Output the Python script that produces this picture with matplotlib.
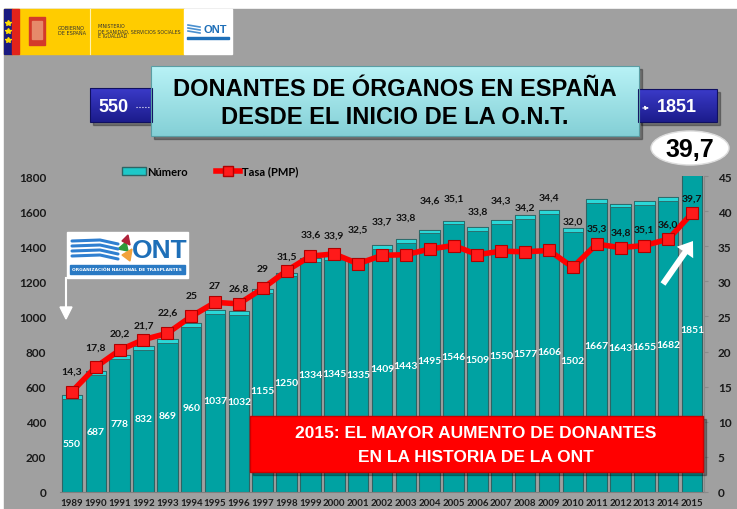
import numpy as np
import matplotlib.pyplot as plt
from matplotlib.patches import Rectangle, Ellipse, FancyArrow, Polygon
from matplotlib.lines import Line2D
from matplotlib.colors import LinearSegmentedColormap

# data
years = list(range(1989, 2016))
donantes = [550, 687, 778, 832, 869, 960, 1037, 1032, 1155, 1250, 1334, 1345, 1335, 1409,
            1443, 1495, 1546, 1509, 1550, 1577, 1606, 1502, 1667, 1643, 1655, 1682, 1851]
tasa = [14.3, 17.8, 20.2, 21.7, 22.6, 25.0, 27.0, 26.8, 29.0, 31.5, 33.6, 33.9, 32.5, 33.7,
        33.8, 34.6, 35.1, 33.8, 34.3, 34.2, 34.4, 32.0, 35.3, 34.8, 35.1, 36.0, 39.7]
tasa_text = ["14,3", "17,8", "20,2", "21,7", "22,6", "25", "27", "26,8", "29", "31,5", "33,6",
             "33,9", "32,5", "33,7", "33,8", "34,6", "35,1", "33,8", "34,3", "34,2", "34,4",
             "32,0", "35,3", "34,8", "35,1", "36,0", "39,7"]
# how far (pixels) each rate label sits above its marker
tasa_label_dy = [20, 20, 17, 14, 21, 21, 17, 16, 20, 15, 22, 19, 35, 34, 38, 49, 47, 44, 51,
                 45, 53, 46, 16, 16, 16, 15, 15]

W, H = 737, 510
fig = plt.figure(figsize=(W / 100, H / 100), dpi=100)
fig.patch.set_facecolor('white')

# background (pixel coords, y down)
bg = fig.add_axes([0, 0, 1, 1], zorder=0)
bg.set_xlim(0, W)
bg.set_ylim(H, 0)
bg.axis('off')
bg.add_patch(Rectangle((4, 10), W, H, color='#a0a0a0'))

# main chart
ax = fig.add_axes([60 / W, 1 - 493 / H, 644 / W, 316 / H], zorder=1)
ax.patch.set_visible(False)
x = np.arange(len(years))
ax.bar(x, donantes, width=0.86, color='#00a2a2', edgecolor='#2d6464', linewidth=0.8,
       label='Número')
ax.bar(x, [22] * len(x), bottom=np.array(donantes) - 22, width=0.86, color='#2ad8d8',
       edgecolor='#2d6464', linewidth=0.6)
ax.set_xlim(-0.5, len(x) - 0.5)
ax.set_ylim(0, 1800)
ax.set_yticks(range(0, 1801, 200))
ax.set_xticks(x)
ax.set_xticklabels(years)
for s in ['top', 'left', 'right']:
    ax.spines[s].set_visible(False)
ax.spines['bottom'].set_color('#808080')
ax.tick_params(axis='y', length=0, pad=10, labelsize=8.5, labelcolor='#1a1a1a')
ax.tick_params(axis='x', length=0, pad=4, labelsize=7, labelcolor='#1a1a1a')
for lab in ax.get_xticklabels() + ax.get_yticklabels():
    lab.set_fontfamily('Lato')
    lab.set_fontweight('bold')

for xi, d in zip(x, donantes):
    ax.text(xi, d / 2, str(d), ha='center', va='center', color='white', fontsize=7.5,
            fontweight='bold', family='Lato', clip_on=False)

ax2 = ax.twinx()
ax2.set_zorder(2)
ax2.patch.set_visible(False)
ax2.plot(x, tasa, color='#ff0000', lw=4, marker='s', markersize=9,
         markerfacecolor='#ff1a1a', markeredgecolor='#b00000', markeredgewidth=0.8,
         label='Tasa (PMP)')
ax2.set_ylim(0, 45)
ax2.set_yticks(range(0, 46, 5))
for s in ['top', 'left', 'bottom']:
    ax2.spines[s].set_visible(False)
ax2.spines['right'].set_color('#8a8a8a')
ax2.tick_params(axis='y', length=3, color='#8a8a8a', pad=7, labelsize=8.5, labelcolor='#1a1a1a')
for lab in ax2.get_yticklabels():
    lab.set_fontfamily('Lato')
    lab.set_fontweight('bold')
for xi, t, s, dy in zip(x, tasa, tasa_text, tasa_label_dy):
    ax2.annotate(s, (xi, t), xytext=(0, dy), textcoords='offset pixels', ha='center',
                 va='center', fontsize=7.5, fontweight='bold', family='Lato', color='#111111')

handles = [Rectangle((0, 0), 1, 1, facecolor='#1ec8c8', edgecolor='#2d6464'),
           Line2D([], [], color='#ff0000', lw=4, marker='s', markersize=7,
                  markerfacecolor='#ff1a1a', markeredgecolor='#b00000')]
fig.legend(handles, ['Número', 'Tasa (PMP)'], loc='center', bbox_to_anchor=(210 / W, 1 - 172 / H),
           ncol=2, frameon=False, handlelength=2.2, handletextpad=0.1, columnspacing=2.5,
           prop={'family': 'Lato', 'weight': 'bold', 'size': 8})

# overlay decorations (pixel coords, y down)
ov = fig.add_axes([0, 0, 1, 1], zorder=5)
ov.patch.set_visible(False)


def grad_box(x0, y0, x1, y1, ctop, cbot, edge):
    ov.add_patch(Rectangle((x0 + 3, y0 + 3), x1 - x0, y1 - y0, color='black', alpha=0.3,
                           zorder=1))
    cmap = LinearSegmentedColormap.from_list('g', [ctop, cbot])
    ov.imshow(np.linspace(0, 1, 50).reshape(-1, 1), cmap=cmap, aspect='auto',
              extent=(x0, x1, y1, y0), origin='upper', interpolation='bilinear', zorder=2)
    ov.add_patch(Rectangle((x0, y0), x1 - x0, y1 - y0, fill=False, edgecolor=edge, lw=0.8,
                           zorder=2.5))


# header strip
ov.add_patch(Rectangle((4, 10), 180, 45, color='#ffcc00'))
ov.add_patch(Rectangle((4, 10), 8, 45, color='#1a1a80'))
ov.add_patch(Rectangle((12, 10), 7, 45, color='#e2231a'))
for yy in (24, 32, 41):
    ov.plot(8, yy, marker='*', color='#ffdd00', markersize=4)
ov.add_patch(Rectangle((29, 18), 16, 28, color='#d33a2a'))
ov.add_patch(Rectangle((32, 22), 10, 18, color='#e68a6a'))
ov.plot([90, 90], [10, 55], color='#fff2b0', lw=0.8)
ov.text(58, 31, 'GOBIERNO\nDE ESPAÑA', fontsize=3.6, color='#333333', va='center',
        linespacing=1.0)
ov.text(98, 32, 'MINISTERIO\nDE SANIDAD, SERVICIOS SOCIALES\nE IGUALDAD', fontsize=3.4,
        color='#333333', va='center', linespacing=1.0)
ov.add_patch(Rectangle((184, 10), 48, 45, color='white'))
ov.text(215, 30, 'ONT', fontsize=8, fontweight='bold', color='#1e6fb8', ha='center',
        va='center', family='Liberation Sans')
for k in range(3):
    ov.plot([188, 200], [26 + 3 * k, 28 + 3 * k], color='#4a90d0', lw=1.2)
ov.add_patch(Rectangle((187, 38), 42, 2, color='#1e6fb8'))

# title boxes
grad_box(90, 89, 152, 123, '#3a3ac8', '#1c1c8c', '#101060')
ov.text(114, 107, '550', color='white', fontsize=13, fontweight='bold', ha='center',
        va='center', family='Liberation Sans', zorder=4)
ov.plot([136, 150], [108, 108], color='white', lw=0.8, ls=':', zorder=4)
grad_box(638, 90, 717, 123, '#3a3ac8', '#1c1c8c', '#101060')
ov.annotate('', xy=(652, 109), xytext=(640, 109), zorder=4,
            arrowprops=dict(arrowstyle='-|>', color='white', lw=0.8, ls=':', mutation_scale=6))
ov.text(677, 108, '1851', color='white', fontsize=13, fontweight='bold', ha='center',
        va='center', family='Liberation Sans', zorder=4)
grad_box(151, 67, 639, 137, '#b8f2f6', '#84d0d6', '#5a9ea4')
ov.text(395, 89, 'DONANTES DE ÓRGANOS EN ESPAÑA', fontsize=17, fontweight='bold',
        ha='center', va='center', family='Liberation Sans', color='black', zorder=4)
ov.text(395, 118, 'DESDE EL INICIO DE LA O.N.T.', fontsize=17, fontweight='bold',
        ha='center', va='center', family='Liberation Sans', color='black', zorder=4)

# 39,7 bubble
ov.add_patch(Ellipse((690, 149), 78, 34, facecolor='white', edgecolor='#dddddd'))
ov.text(690, 150, '39,7', fontsize=18, fontweight='bold', ha='center', va='center',
        family='Liberation Sans', color='black')

# white arrow to 2015
ov.add_patch(FancyArrow(663, 285, 30, -43, width=6, head_width=20, head_length=14,
                        length_includes_head=True, color='white', lw=0))

# red message box
ov.add_patch(Rectangle((253, 420), 453, 56, color='black', alpha=0.3))
ov.add_patch(Rectangle((250, 417), 453, 56, facecolor='#ff0000', edgecolor='#cc0000'))
ov.text(476, 434, '2015: EL MAYOR AUMENTO DE DONANTES', fontsize=12.5, fontweight='bold',
        ha='center', va='center', family='Liberation Sans', color='white')
ov.text(476, 458, 'EN LA HISTORIA DE LA ONT', fontsize=12.5, fontweight='bold',
        ha='center', va='center', family='Liberation Sans', color='white')

# ONT logo box with arrow
ov.add_patch(Rectangle((67, 233), 121, 46, color='white'))
ov.add_patch(Rectangle((70, 266), 115, 9, color='#2a7ac4'))
ov.text(127, 270.5, 'ORGANIZACIÓN NACIONAL DE TRASPLANTES', fontsize=3.2, color='white',
        ha='center', va='center', fontweight='bold')
for k in range(4):
    yy = 242 + 5 * k
    ov.plot([72, 100, 118], [yy, yy - 1, yy + 3], color='#2f7fd0', lw=2.2,
            solid_capstyle='round')
ov.add_patch(Polygon([[118, 250], [126, 243], [128, 252]], color='#2e9a3a'))
ov.add_patch(Polygon([[122, 242], [128, 236], [130, 246]], color='#b0223a'))
ov.add_patch(Polygon([[122, 256], [132, 250], [130, 262]], color='#f2a23a'))
ov.text(160, 251, 'ONT', fontsize=19, fontweight='bold', color='#1e6fb8', ha='center',
        va='center', family='Liberation Sans')
ov.plot([66, 66], [279, 310], color='white', lw=1.5)
ov.add_patch(Polygon([[60, 308], [72, 308], [66, 320]], color='white'))

ov.set_xlim(0, W)
ov.set_ylim(H, 0)
ov.axis('off')

fig.savefig('out.png', dpi=100, facecolor=fig.get_facecolor())
